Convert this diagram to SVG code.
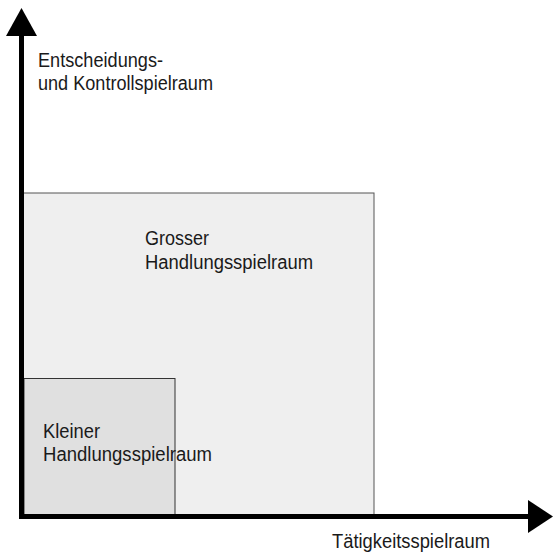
<svg xmlns="http://www.w3.org/2000/svg" width="553" height="553" viewBox="0 0 553 553">
<style>
text{font-family:"Liberation Sans",Arial,sans-serif;font-size:19.5px;fill:#1a1a1a}
.axis{stroke:#000;stroke-width:5;fill:none}
.head{fill:#000}
</style>
<rect width="553" height="553" fill="#fff"/>
<g id="grosser">
<rect x="22" y="193" width="352" height="322" fill="#efefef" stroke="#555" stroke-width="1"/>
<text x="145" y="245" textLength="64" lengthAdjust="spacingAndGlyphs">Grosser</text>
<text x="145" y="269" textLength="168" lengthAdjust="spacingAndGlyphs">Handlungsspielraum</text>
</g>
<g id="kleiner">
<rect x="24" y="378.5" width="151" height="136" fill="#e0e0e0" stroke="#333" stroke-width="1"/>
<text x="43" y="438" textLength="57" lengthAdjust="spacingAndGlyphs">Kleiner</text>
<text x="43" y="461" textLength="169" lengthAdjust="spacingAndGlyphs">Handlungsspielraum</text>
</g>
<g id="connectors">
<line class="axis" x1="21.5" y1="519" x2="21.5" y2="34"/>
<polygon class="head" points="21.5,8 6,36 37,36"/>
<line class="axis" x1="19" y1="516.5" x2="530" y2="516.5"/>
<polygon class="head" points="553,516.5 528,500 528,533"/>
</g>
<g id="labels">
<text x="38" y="67" textLength="125" lengthAdjust="spacingAndGlyphs">Entscheidungs-</text>
<text x="38" y="90" textLength="175" lengthAdjust="spacingAndGlyphs">und Kontrollspielraum</text>
<text x="332" y="548" textLength="158" lengthAdjust="spacingAndGlyphs">Tätigkeitsspielraum</text>
</g>
</svg>
